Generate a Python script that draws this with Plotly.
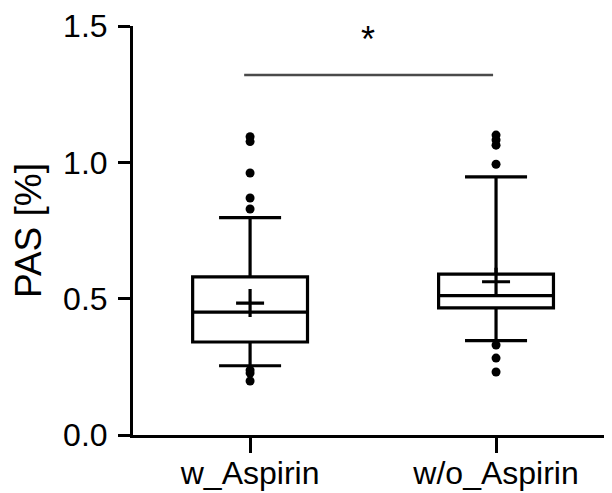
import plotly.graph_objects as go

categories = ["w_Aspirin", "w/o_Aspirin"]
q1 = [0.341, 0.466]
median = [0.451, 0.511]
q3 = [0.580, 0.590]
lower_whisker = [0.254, 0.346]
upper_whisker = [0.797, 0.947]
means = [0.484, 0.562]
outliers = [
    [1.094, 1.076, 0.961, 0.869, 0.829, 0.238, 0.227, 0.198],
    [1.100, 1.082, 1.063, 0.993, 0.330, 0.282, 0.231],
]
y_ticks = [0.0, 0.5, 1.0, 1.5]
sig_y = 1.32
sig_label = "*"

FONT = "Liberation Sans, Arial, sans-serif"

fig = go.Figure()
for i, c in enumerate(categories):
    fig.add_trace(go.Box(
        x=[c], q1=[q1[i]], median=[median[i]], q3=[q3[i]],
        lowerfence=[lower_whisker[i]], upperfence=[upper_whisker[i]],
        width=0.467, whiskerwidth=0.54, boxpoints=False,
        line=dict(color="black", width=3.2), fillcolor="white",
        showlegend=False, hoverinfo="skip",
    ))
    fig.add_trace(go.Scatter(
        x=[c] * len(outliers[i]), y=outliers[i], mode="markers",
        marker=dict(color="black", size=9), showlegend=False,
    ))
    fig.add_trace(go.Scatter(
        x=[c], y=[means[i]], mode="markers",
        marker=dict(symbol="cross-thin", size=20, line=dict(color="black", width=3.2)),
        showlegend=False,
    ))

fig.add_shape(type="line", xref="x", yref="y", x0=-0.024, x1=0.988, y0=sig_y, y1=sig_y,
              line=dict(color="#4a4a4a", width=2.5))
fig.add_annotation(x=0.48, y=1.45, xref="x", yref="y", text=sig_label, showarrow=False,
                   font=dict(family=FONT, size=36, color="black"), yanchor="middle")

# the page body has an 8px default margin, so margins are offset by 8px
fig.update_layout(
    width=612, height=493,
    margin=dict(l=125, r=0, t=18, b=66),
    plot_bgcolor="white", paper_bgcolor="white",
    font=dict(family=FONT, color="black"),
)
fig.update_xaxes(
    type="category", categoryorder="array", categoryarray=categories,
    range=[-0.476, 1.504], showline=True, linewidth=3, linecolor="black",
    ticks="outside", ticklen=15, tickwidth=3, tickcolor="black",
    tickfont=dict(size=32, family=FONT), showgrid=False, zeroline=False,
    automargin=False, ticklabelstandoff=-7,
)
fig.update_yaxes(
    range=[0, 1.5], tickvals=y_ticks, ticktext=[f"{v:.1f}" for v in y_ticks],
    showline=True, linewidth=3, linecolor="black",
    ticks="outside", ticklen=12, tickwidth=3, tickcolor="black",
    tickfont=dict(size=32, family=FONT), showgrid=False, zeroline=False,
    automargin=False, ticklabelstandoff=4,
    title=dict(text="PAS [%]", font=dict(size=37, family=FONT), standoff=15),
)

fig.write_html("out.html")
